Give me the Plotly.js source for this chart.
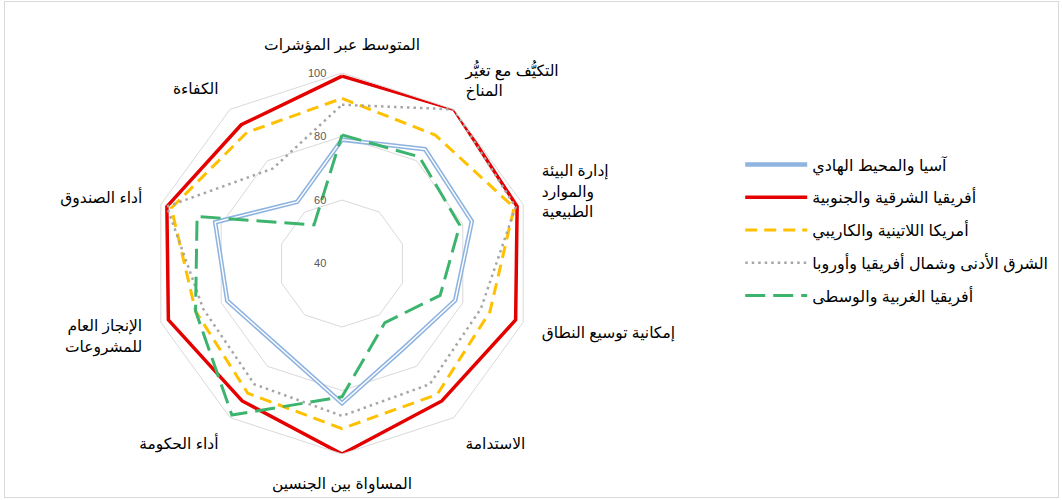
<!DOCTYPE html>
<html>
<head>
<meta charset="utf-8">
<script src="https://cdn.plot.ly/plotly-3.0.1.min.js"></script>
<style>
html,body{margin:0;padding:0;background:#fff;}
#chart{position:absolute;left:0;top:0;width:1062px;height:500px;}
#frame{position:absolute;left:4px;top:1px;width:1053px;height:495px;border:1px solid #d9d9d9;pointer-events:none;}
</style>
</head>
<body>
<div id="chart"></div>
<div id="frame"></div>
<script>
// Axis categories (clockwise from top)
const categories = [
  "المتوسط عبر المؤشرات",
  "التكيُّف مع تغيُّر<br>المناخ",
  "إدارة البيئة<br>والموارد<br>الطبيعية",
  "إمكانية توسيع النطاق",
  "الاستدامة",
  "المساواة بين الجنسين",
  "أداء الحكومة",
  "الإنجاز العام<br>للمشروعات",
  "أداء الصندوق",
  "الكفاءة"
];

// Series names
const seriesNames = [
  "آسيا والمحيط الهادي",
  "أفريقيا الشرقية والجنوبية",
  "أمريكا اللاتينية والكاريبي",
  "الشرق الأدنى وشمال أفريقيا وأوروبا",
  "أفريقيا الغربية والوسطى"
];

// Values
const asiaPacific       = [79, 84.5, 83, 77.5, 73, 84, 73, 78, 82, 64];
const eastSouthAfrica   = [99, 100, 98, 97.5, 93.5, 100, 93.5, 97.5, 98, 94];
const latinAmerica      = [92, 90, 97, 89, 91, 92, 90.5, 88.5, 96.5, 91];
const nearEastEurope    = [90, 100, 97.5, 86, 87, 88, 87, 86, 98, 77];
const westCentralAfrica = [80.5, 81.5, 79, 72.5, 63, 82, 99, 88.5, 88, 55];

// Radial axis: range and tick step
const radialRange = [40, 100];
const radialStep = 20;

function closeLoop(arr) { return arr.concat([arr[0]]); }
const theta = closeLoop(categories);

const traces = [
  {type:'scatterpolar', mode:'lines', name:seriesNames[0], legendgroup:'g1',
   r:closeLoop(asiaPacific), theta:theta,
   line:{color:'#8fb4e0', width:4.5}},
  {type:'scatterpolar', mode:'lines', name:seriesNames[0], legendgroup:'g1', showlegend:false, hoverinfo:'skip',
   r:closeLoop(asiaPacific), theta:theta,
   line:{color:'#ffffff', width:1.4}},
  {type:'scatterpolar', mode:'lines', name:seriesNames[1], legendgroup:'g2',
   r:closeLoop(eastSouthAfrica), theta:theta,
   line:{color:'#e50000', width:3.5}},
  {type:'scatterpolar', mode:'lines', name:seriesNames[2], legendgroup:'g3',
   r:closeLoop(latinAmerica), theta:theta,
   line:{color:'#ffc000', width:3, dash:'12px,7px'}},
  {type:'scatterpolar', mode:'lines', name:seriesNames[3], legendgroup:'g4',
   r:closeLoop(nearEastEurope), theta:theta,
   line:{color:'#a6a6a6', width:2.5, dash:'2.5px,4px'}},
  {type:'scatterpolar', mode:'lines', name:seriesNames[4], legendgroup:'g5',
   r:closeLoop(westCentralAfrica), theta:theta,
   line:{color:'#3cb46e', width:3, dash:'20px,8px'}}
];

const layout = {
  width:1062, height:500,
  margin:{l:0, r:0, t:0, b:0},
  paper_bgcolor:'rgba(0,0,0,0)',
  font:{family:'"Liberation Sans", Arial, "DejaVu Sans", sans-serif', color:'#000'},
  showlegend:true,
  legend:{
    x:0.697, y:0.705, xanchor:'left', yanchor:'top',
    traceorder:'grouped', tracegroupgap:9, itemwidth:62,
    font:{size:16, color:'#000'}, bgcolor:'rgba(0,0,0,0)'
  },
  polar:{
    domain:{x:[0.14266, 0.50141], y:[0.092, 0.854]},
    bgcolor:'rgba(0,0,0,0)',
    gridshape:'linear',
    angularaxis:{
      type:'category', categoryarray:categories,
      direction:'clockwise', rotation:90,
      showgrid:false, showline:true, linecolor:'#d9d9d9', linewidth:1,
      ticks:'outside', ticklen:16, tickcolor:'rgba(0,0,0,0)',
      tickfont:{size:15.5, color:'#000'}
    },
    radialaxis:{
      range:radialRange, tickmode:'linear', tick0:radialRange[0], dtick:radialStep,
      ticksuffix:'\u2002\u2800',
      angle:90, tickangle:90, side:'counterclockwise',
      showline:false, ticks:'', gridcolor:'#d9d9d9', gridwidth:1,
      tickfont:{size:11, color:'#595959'}
    }
  }
};

Plotly.newPlot('chart', traces, layout, {displayModeBar:false, staticPlot:true});
</script>
</body>
</html>
